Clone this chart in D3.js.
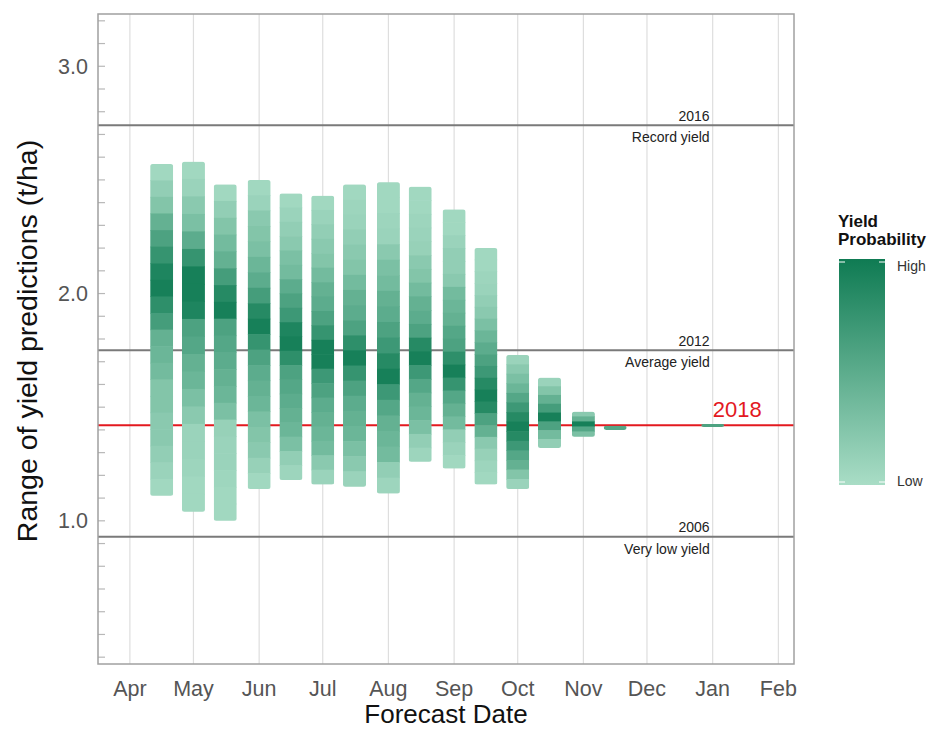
<!DOCTYPE html>
<html>
<head>
<meta charset="utf-8">
<script src="https://cdn.jsdelivr.net/npm/d3@7"></script>
<style>
  html, body { margin: 0; padding: 0; background: #fff; }
  svg { display: block; font-family: "Liberation Sans", Arial, sans-serif; }
</style>
</head>
<body>
<svg id="chart" width="936" height="730"></svg>
<script>
// Forecast issue dates (one bar per forecast)
const forecastDates = ["2017-04-16", "2017-05-01", "2017-05-16", "2017-06-01", "2017-06-16",
  "2017-07-01", "2017-07-16", "2017-08-01", "2017-08-16", "2017-09-01", "2017-09-16",
  "2017-10-01", "2017-10-16", "2017-11-01", "2017-11-16", "2018-01-01"];

// Lowest and highest predicted yield (t/ha) for each forecast
const rangeLow  = [1.11, 1.04, 1.00, 1.14, 1.18, 1.16, 1.15, 1.12, 1.26, 1.23, 1.16, 1.14, 1.32, 1.37, 1.400, 1.413];
const rangeHigh = [2.57, 2.58, 2.48, 2.50, 2.44, 2.43, 2.48, 2.49, 2.47, 2.37, 2.20, 1.73, 1.63, 1.48, 1.418, 1.426];

// Relative probability of each yield band, listed from the top of the range to the bottom
const bandProbability = [
  [0.05, 0.15, 0.25, 0.45, 0.60, 0.75, 0.90, 0.95, 0.80, 0.65, 0.45, 0.40, 0.35, 0.25, 0.25, 0.20, 0.20, 0.15, 0.10, 0.05],
  [0.05, 0.10, 0.20, 0.30, 0.50, 0.75, 0.95, 0.95, 0.90, 0.60, 0.55, 0.45, 0.40, 0.30, 0.20, 0.10, 0.10, 0.08, 0.05, 0.05],
  [0.05, 0.15, 0.25, 0.35, 0.45, 0.65, 0.85, 0.95, 0.60, 0.55, 0.50, 0.45, 0.40, 0.30, 0.12, 0.10, 0.10, 0.07, 0.05, 0.05],
  [0.05, 0.10, 0.20, 0.25, 0.30, 0.40, 0.50, 0.65, 0.85, 0.95, 0.75, 0.60, 0.50, 0.45, 0.40, 0.30, 0.25, 0.20, 0.12, 0.05],
  [0.05, 0.10, 0.15, 0.20, 0.30, 0.35, 0.50, 0.60, 0.70, 0.90, 0.95, 0.80, 0.60, 0.55, 0.50, 0.45, 0.40, 0.30, 0.15, 0.08],
  [0.05, 0.10, 0.15, 0.20, 0.25, 0.35, 0.45, 0.50, 0.60, 0.75, 0.95, 0.95, 0.70, 0.60, 0.50, 0.45, 0.40, 0.35, 0.20, 0.10],
  [0.05, 0.08, 0.10, 0.15, 0.20, 0.25, 0.35, 0.45, 0.50, 0.60, 0.80, 0.95, 0.75, 0.60, 0.50, 0.45, 0.40, 0.30, 0.20, 0.10],
  [0.05, 0.05, 0.08, 0.10, 0.20, 0.30, 0.35, 0.45, 0.50, 0.60, 0.70, 0.85, 0.95, 0.70, 0.55, 0.45, 0.40, 0.35, 0.15, 0.08],
  [0.05, 0.05, 0.08, 0.10, 0.12, 0.20, 0.25, 0.35, 0.45, 0.50, 0.60, 0.85, 0.95, 0.70, 0.55, 0.45, 0.40, 0.30, 0.15, 0.08],
  [0.05, 0.05, 0.10, 0.15, 0.15, 0.20, 0.35, 0.40, 0.45, 0.55, 0.60, 0.80, 0.95, 0.75, 0.55, 0.45, 0.35, 0.15, 0.10, 0.05],
  [0.05, 0.05, 0.08, 0.10, 0.15, 0.20, 0.30, 0.40, 0.50, 0.60, 0.70, 0.85, 0.95, 0.85, 0.60, 0.45, 0.20, 0.12, 0.08, 0.05],
  [0.10, 0.20, 0.30, 0.40, 0.55, 0.70, 0.85, 0.95, 0.85, 0.70, 0.55, 0.45, 0.25, 0.10],
  [0.10, 0.25, 0.45, 0.65, 0.95, 0.60, 0.35, 0.15],
  [0.20, 0.45, 0.95, 0.55, 0.30],
  [0.55],
  [0.60]
];

// Reference seasons drawn as horizontal lines
const refYears  = ["2016", "2012", "2006"];
const refYields = [2.74, 1.75, 0.93];
const refLabels = ["Record yield", "Average yield", "Very low yield"];

// Current season yield
const currentYear = "2018";
const currentYield = 1.42;

// Axis ticks
const yTickValues = [1.0, 2.0, 3.0];
const yMinorTicks = [0.4, 0.5, 0.6, 0.7, 0.8, 0.9, 1.0, 1.1, 1.2, 1.3, 1.4, 1.5, 1.6, 1.7, 1.8, 1.9,
  2.0, 2.1, 2.2, 2.3, 2.4, 2.5, 2.6, 2.7, 2.8, 2.9, 3.0, 3.1, 3.2];
const monthTicks = ["2017-04-01", "2017-05-01", "2017-06-01", "2017-07-01", "2017-08-01", "2017-09-01",
  "2017-10-01", "2017-11-01", "2017-12-01", "2018-01-01", "2018-02-01"];
const legendLabels = ["High", "Low"];

// ---- layout ----
const svg = d3.select("#chart");
const panel = { left: 98, right: 794, top: 14, bottom: 664 };
const parse = d3.utcParse("%Y-%m-%d");

const x = d3.scaleUtc()
  .domain([Date.UTC(2017, 2, 16, 23), Date.UTC(2018, 1, 8, 9)])
  .range([panel.left, panel.right]);
const y = d3.scaleLinear()
  .domain([0.37, 3.23])
  .range([panel.bottom, panel.top]);

const lightGreen = "#a9ddc6";
const darkGreen = "#0f7b53";
const shade = d3.scaleLinear().domain([0, 1]).range([lightGreen, darkGreen]).interpolate(d3.interpolateRgb);

const barWidth = 23;

// vertical month grid
svg.append("g").selectAll("line")
  .data(monthTicks)
  .join("line")
  .attr("x1", d => x(parse(d))).attr("x2", d => x(parse(d)))
  .attr("y1", panel.top).attr("y2", panel.bottom)
  .attr("stroke", "#dedede").attr("stroke-width", 1.2);

// minor ticks along the left edge
svg.append("g").selectAll("line")
  .data(yMinorTicks)
  .join("line")
  .attr("x1", panel.left).attr("x2", panel.left + 7)
  .attr("y1", d => y(d)).attr("y2", d => y(d))
  .attr("stroke", "#b8b8b8").attr("stroke-width", 1.2);

// reference season lines
svg.append("g").selectAll("line")
  .data(refYields)
  .join("line")
  .attr("x1", panel.left).attr("x2", panel.right)
  .attr("y1", d => y(d)).attr("y2", d => y(d))
  .attr("stroke", "#7a7a7a").attr("stroke-width", 2);

// current season line
svg.append("line")
  .attr("x1", panel.left).attr("x2", panel.right)
  .attr("y1", y(currentYield)).attr("y2", y(currentYield))
  .attr("stroke", "#e3191f").attr("stroke-width", 2);

// forecast bars built from stacked probability bands
const defs = svg.append("defs");
const bars = forecastDates.map((d, i) => ({
  date: parse(d), low: rangeLow[i], high: rangeHigh[i], bands: bandProbability[i], i
}));

bars.forEach(b => {
  defs.append("clipPath").attr("id", "clip" + b.i)
    .append("rect")
    .attr("x", x(b.date) - barWidth / 2)
    .attr("y", y(b.high))
    .attr("width", barWidth)
    .attr("height", Math.max(1, y(b.low) - y(b.high)))
    .attr("rx", 2.5);
});

const barG = svg.append("g").selectAll("g")
  .data(bars)
  .join("g")
  .attr("clip-path", b => `url(#clip${b.i})`);

barG.selectAll("rect")
  .data(b => {
    const n = b.bands.length;
    const step = (b.high - b.low) / n;
    return b.bands.map((p, k) => ({
      date: b.date, top: b.high - k * step, bottom: b.high - (k + 1) * step, p
    }));
  })
  .join("rect")
  .attr("x", d => x(d.date) - barWidth / 2)
  .attr("y", d => y(d.top) - 0.3)
  .attr("width", barWidth)
  .attr("height", d => Math.max(1.2, y(d.bottom) - y(d.top) + 0.6))
  .attr("fill", d => shade(d.p));

// panel border
svg.append("rect")
  .attr("x", panel.left).attr("y", panel.top)
  .attr("width", panel.right - panel.left).attr("height", panel.bottom - panel.top)
  .attr("fill", "none").attr("stroke", "#a0a0a0").attr("stroke-width", 1.5);

// reference labels
const labelX = x(parse("2018-01-01")) - 3;
const refG = svg.append("g").attr("fill", "#222").attr("font-size", 14).attr("text-anchor", "end");
refYields.forEach((v, i) => {
  refG.append("text").attr("x", labelX).attr("y", y(v) - 4.5).text(refYears[i]);
  refG.append("text").attr("x", labelX).attr("y", y(v) + 17).text(refLabels[i]);
});

svg.append("text")
  .attr("x", x(parse("2018-01-01")))
  .attr("y", y(currentYield) - 8.5)
  .attr("fill", "#e3191f")
  .attr("font-size", 22)
  .text(currentYear);

// y axis labels
svg.append("g").selectAll("text")
  .data(yTickValues)
  .join("text")
  .attr("x", 88)
  .attr("y", d => y(d) + 7.5)
  .attr("text-anchor", "end")
  .attr("fill", "#555")
  .attr("font-size", 21.5)
  .text(d => d3.format(".1f")(d));

// x axis labels
svg.append("g").selectAll("text")
  .data(monthTicks)
  .join("text")
  .attr("x", d => x(parse(d)))
  .attr("y", 696)
  .attr("text-anchor", "middle")
  .attr("fill", "#555")
  .attr("font-size", 21.5)
  .text(d => d3.utcFormat("%b")(parse(d)));

// axis titles
svg.append("text")
  .attr("x", (panel.left + panel.right) / 2)
  .attr("y", 723)
  .attr("text-anchor", "middle")
  .attr("fill", "#111")
  .attr("font-size", 26)
  .text("Forecast Date");

svg.append("text")
  .attr("transform", `translate(37, ${(panel.top + panel.bottom) / 2 + 2}) rotate(-90)`)
  .attr("text-anchor", "middle")
  .attr("fill", "#111")
  .attr("font-size", 28.5)
  .text("Range of yield predictions (t/ha)");

// legend
const legend = { x: 839, y: 259, w: 46, h: 226 };
const grad = defs.append("linearGradient").attr("id", "legendGrad")
  .attr("x1", 0).attr("y1", 0).attr("x2", 0).attr("y2", 1);
grad.selectAll("stop")
  .data([1, 0])
  .join("stop")
  .attr("offset", (d, i) => i)
  .attr("stop-color", d => shade(d));

svg.append("rect")
  .attr("x", legend.x).attr("y", legend.y)
  .attr("width", legend.w).attr("height", legend.h)
  .attr("fill", "url(#legendGrad)");

[legend.y + 3, legend.y + legend.h - 3].forEach(ty => {
  svg.append("line").attr("x1", legend.x).attr("x2", legend.x + 6)
    .attr("y1", ty).attr("y2", ty).attr("stroke", "#fff").attr("stroke-width", 1);
  svg.append("line").attr("x1", legend.x + legend.w - 6).attr("x2", legend.x + legend.w)
    .attr("y1", ty).attr("y2", ty).attr("stroke", "#fff").attr("stroke-width", 1);
});

const legendTitle = svg.append("text")
  .attr("x", legend.x - 1).attr("y", 227)
  .attr("font-size", 17).attr("font-weight", "bold").attr("fill", "#111");
legendTitle.append("tspan").attr("x", legend.x - 1).attr("dy", 0).text("Yield");
legendTitle.append("tspan").attr("x", legend.x - 1).attr("dy", 18).text("Probability");

svg.append("g").selectAll("text")
  .data(legendLabels)
  .join("text")
  .attr("x", legend.x + legend.w + 12)
  .attr("y", (d, i) => i === 0 ? legend.y + 12 : legend.y + legend.h + 1)
  .attr("font-size", 14)
  .attr("fill", "#333")
  .text(d => d);
</script>
</body>
</html>
